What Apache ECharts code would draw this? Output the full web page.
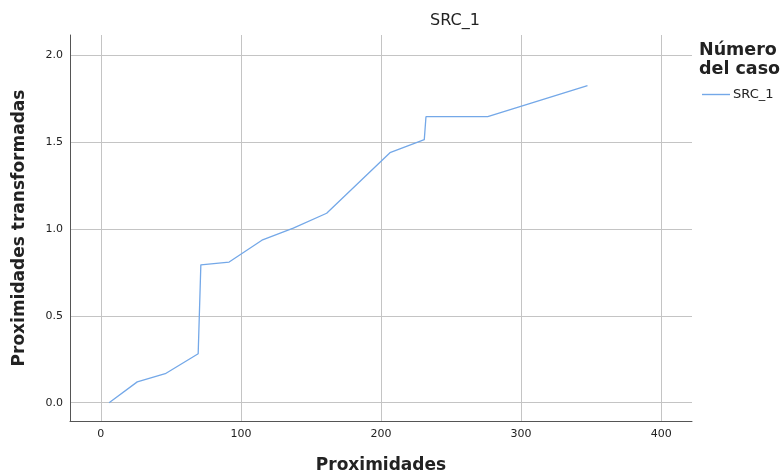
<!DOCTYPE html>
<html>
<head>
<meta charset="utf-8">
<script src="https://cdn.jsdelivr.net/npm/echarts@6/dist/echarts.min.js"></script>
<style>html,body{margin:0;padding:0;background:#fff}#c{width:781px;height:472px}</style>
</head>
<body>
<div id="c"></div>
<script>
const seriesName = 'SRC_1';
const proximidades = [5.9, 26, 46, 69.5, 71.4, 91.6, 115, 137.4, 161.2, 206.4, 230.9, 232.1, 276.2, 347.4];
const transformadas = [0.0, 0.12, 0.167, 0.282, 0.793, 0.809, 0.935, 1.004, 1.09, 1.438, 1.513, 1.645, 1.645, 1.824];
const chartTitle = 'SRC_1';
const legendTitle = 'Número\ndel caso';
const xName = 'Proximidades';
const yName = 'Proximidades transformadas';

const chart = echarts.init(document.getElementById('c'));
const font = 'DejaVu Sans';
chart.setOption({
  animation: false,
  title: [
    {text: chartTitle, left: 430, top: 13, padding: 0, textStyle: {fontFamily: font, fontSize: 16, fontWeight: 500, color: '#222'}},
    {text: legendTitle, left: 699, top: 41, padding: 0, textStyle: {fontFamily: font, fontSize: 17.5, fontWeight: 'bold', color: '#222', lineHeight: 19}}
  ],
  legend: {
    left: 702, top: 88, padding: 0, itemWidth: 28, itemHeight: 1.4, itemGap: 4, icon: 'rect',
    textStyle: {fontFamily: font, fontSize: 13, color: '#222', padding: [0, 0, 0, -2]},
    data: [seriesName]
  },
  grid: {left: 70, right: 89, top: 35, bottom: 51, containLabel: false, outerBoundsMode: 'none'},
  xAxis: {
    type: 'value', min: -22, max: 422,
    name: xName, nameLocation: 'middle', nameGap: 36,
    nameTextStyle: {fontFamily: font, fontSize: 17, fontWeight: 'bold', color: '#222'},
    axisLine: {show: true, onZero: false, lineStyle: {color: '#555', width: 1}},
    axisTick: {show: false},
    axisLabel: {fontFamily: font, fontSize: 11, color: '#222', showMinLabel: false, showMaxLabel: false, margin: 8},
    splitLine: {show: true, showMinLine: false, showMaxLine: false, lineStyle: {color: '#c4c4c4', width: 1}}
  },
  yAxis: {
    type: 'value', min: -0.105, max: 2.115,
    name: yName, nameLocation: 'middle', nameGap: 42,
    nameTextStyle: {fontFamily: font, fontSize: 17, fontWeight: 'bold', color: '#222'},
    axisLine: {show: true, onZero: false, lineStyle: {color: '#555', width: 1}},
    axisTick: {show: false},
    axisLabel: {fontFamily: font, fontSize: 11, color: '#222', showMinLabel: false, showMaxLabel: false, margin: 7,
      formatter: v => v.toFixed(1)},
    splitLine: {show: true, showMinLine: false, showMaxLine: false, lineStyle: {color: '#c4c4c4', width: 1}}
  },
  series: [{
    name: seriesName, type: 'line', symbol: 'none',
    lineStyle: {color: '#74a8e8', width: 1.3}, itemStyle: {color: '#74a8e8'},
    data: proximidades.map((x, i) => [x, transformadas[i]])
  }]
});
</script>
</body>
</html>
